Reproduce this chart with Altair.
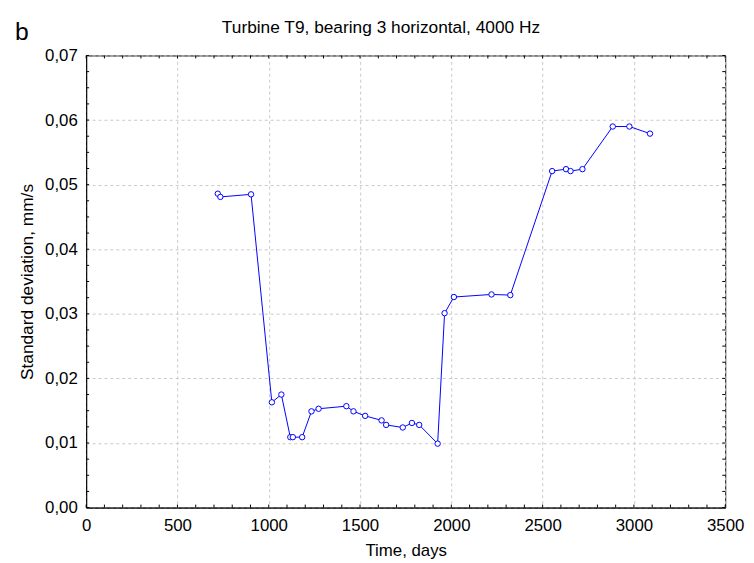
import altair as alt
import pandas as pd

# ---- data ----
days = [721, 735, 903, 1017, 1069, 1118, 1132, 1183, 1234, 1273, 1425, 1464,
        1528, 1618, 1643, 1734, 1784, 1824, 1925, 1963, 2014, 2220, 2323,
        2552, 2628, 2653, 2718, 2884, 2975, 3088]
sd = [0.0486, 0.0481, 0.0485, 0.0163, 0.0175, 0.0109, 0.0109, 0.0109, 0.0149,
      0.0153, 0.0157, 0.0149, 0.0142, 0.0135, 0.0128, 0.0124, 0.0131, 0.0128,
      0.0099, 0.0301, 0.0326, 0.0330, 0.0329, 0.0521, 0.0524, 0.0521, 0.0524,
      0.0590, 0.0590, 0.0579]

x_major = [0, 500, 1000, 1500, 2000, 2500, 3000, 3500]
y_major = [0.0, 0.01, 0.02, 0.03, 0.04, 0.05, 0.06, 0.07]
x_minor = list(range(0, 3501, 100))
y_minor = [round(i * 0.0025, 4) for i in range(29)]

title_text = "Turbine T9, bearing 3 horizontal, 4000 Hz"
panel_label = "b"
x_title = "Time, days"
y_title = "Standard deviation, mm/s"

FONT = "Liberation Sans"
BLUE = "#0000ff"
W, H = 646, 457

df = pd.DataFrame({"day": days, "sd": sd})
xs = alt.Scale(domain=[0, 3500], nice=False, zero=False)
ys = alt.Scale(domain=[0, 0.07], nice=False, zero=False)

x_axis = alt.Axis(values=x_major, title=x_title, grid=True, ticks=False,
                  format="d",
                  labelPadding=10, labelFontSize=17, labelFont=FONT,
                  labelColor="black", titleFont=FONT, titleFontSize=17,
                  titleFontWeight="normal", titleColor="black",
                  titleBaseline="alphabetic", titleY=48,
                  domainColor="black", labelFlush=False, labelOverlap=False)
y_axis = alt.Axis(values=y_major, title=y_title, grid=True, ticks=False,
                  labelExpr="replace(format(datum.value, '.2f'), '.', ',')",
                  labelPadding=9, labelFontSize=17, labelFont=FONT,
                  labelColor="black", titleFont=FONT, titleFontSize=17.5,
                  titleFontWeight="normal", titleColor="black",
                  titleX=-59, titleY=H / 2, titleAngle=-90,
                  titleAlign="center", titleBaseline="middle",
                  domainColor="black", labelFlush=False, labelOverlap=False)

line = alt.Chart(df).mark_line(color=BLUE, strokeWidth=1).encode(
    x=alt.X("day:Q", scale=xs, axis=x_axis),
    y=alt.Y("sd:Q", scale=ys, axis=y_axis),
)
pts = alt.Chart(df).mark_point(shape="circle", size=30, filled=True,
                               fill="white", stroke=BLUE, strokeWidth=1,
                               opacity=1).encode(
    x=alt.X("day:Q", scale=xs, axis=x_axis),
    y=alt.Y("sd:Q", scale=ys, axis=y_axis),
)

xm = pd.DataFrame({"t": x_minor})
ym = pd.DataFrame({"v": y_minor})
tick_bottom = alt.Chart(xm).mark_rule(color="black", strokeWidth=1).encode(
    x=alt.X("t:Q", scale=xs, axis=x_axis), y=alt.value(H), y2=alt.value(H - 3))
tick_top = alt.Chart(xm).mark_rule(color="black", strokeWidth=1).encode(
    x=alt.X("t:Q", scale=xs, axis=x_axis), y=alt.value(0), y2=alt.value(3))
tick_left = alt.Chart(ym).mark_rule(color="black", strokeWidth=1).encode(
    y=alt.Y("v:Q", scale=ys, axis=y_axis), x=alt.value(0), x2=alt.value(3))
tick_right = alt.Chart(ym).mark_rule(color="black", strokeWidth=1).encode(
    y=alt.Y("v:Q", scale=ys, axis=y_axis), x=alt.value(W), x2=alt.value(W - 3))

lab = alt.Chart(pd.DataFrame({"lab": [panel_label]})).mark_text(
    fontSize=25, font=FONT, align="left", baseline="alphabetic",
    color="black").encode(text="lab:N", x=alt.value(-72), y=alt.value(-16))

ttl = alt.Chart(pd.DataFrame({"lab": [title_text]})).mark_text(
    fontSize=17.5, font=FONT, align="center", baseline="alphabetic",
    color="black").encode(text="lab:N", x=alt.value(298), y=alt.value(-23))

chart = alt.layer(line, pts, tick_bottom, tick_top, tick_left, tick_right,
                  lab, ttl).properties(
    width=W, height=H,
    autosize=alt.AutoSizeParams(type="none"),
    padding={"left": 79, "top": 45, "right": 21, "bottom": 50},
    background="white",
).configure_view(stroke="black", strokeWidth=1).configure_axis(
    gridColor="#c8c8c8", gridDash=[3, 3], gridWidth=1
)

chart.save("out.html", embed_options={"renderer": "svg", "actions": False})
